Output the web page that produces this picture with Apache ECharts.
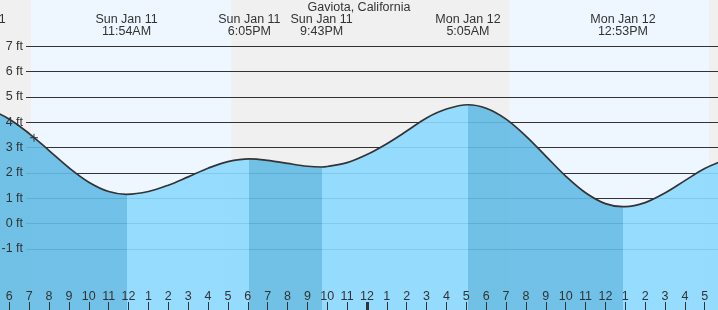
<!DOCTYPE html>
<html>
<head>
<meta charset="utf-8">
<script src="https://cdn.jsdelivr.net/npm/echarts@6/dist/echarts.min.js"></script>
<style>
  html, body { margin: 0; padding: 0; background: #f0f0f0; }
  #main { width: 718px; height: 310px; }
</style>
</head>
<body>
<div id="main"></div>
<script>
// hours counted from Sun Jan 11 00:00
var tideHours = [4.25, 5, 6, 7, 8, 9, 10, 11, 11.9, 13, 14, 15, 16, 17, 18.083, 19, 20, 21, 21.717,
                 22, 23, 24, 25, 26, 27, 28, 29.083, 30, 31, 32, 33, 34, 35, 36, 36.883,
                 37, 38, 39, 40, 41, 42];
var tideFeet = [4.6, 4.49, 4.12, 3.55, 2.88, 2.2, 1.63, 1.26, 1.15, 1.26, 1.51, 1.84, 2.18, 2.44, 2.55, 2.49, 2.37, 2.26, 2.23,
                2.25, 2.4, 2.72, 3.15, 3.65, 4.17, 4.52, 4.69, 4.55, 4.12, 3.45, 2.66, 1.87, 1.21, 0.78, 0.66,
                0.66, 0.82, 1.2, 1.69, 2.17, 2.5];

var extremeHours = [4.25, 11.9, 18.083, 21.717, 29.083, 36.883];
var extremeLabels = ['Sun Jan 11\n4:15AM', 'Sun Jan 11\n11:54AM', 'Sun Jan 11\n6:05PM',
                     'Sun Jan 11\n9:43PM', 'Mon Jan 12\n5:05AM', 'Mon Jan 12\n12:53PM'];

var dayStart = [7.09, 31.18];
var dayEnd = [17.16, 41.21];

var nowHour = 7.24;
var nowFeet = 3.39;

var FONT = 'Liberation Sans';
var TEXT = '#333';
var FLOOD = 'rgba(139,217,255,0.9)';
var EBB = 'rgba(99,187,229,0.9)';

var tideData = tideHours.map(function(h, i) { return [h, tideFeet[i]]; });

// falling tide (high -> low) is shaded darker
var pieces = [{ lt: extremeHours[0], color: FLOOD }];
extremeHours.forEach(function(h, i) {
    var p = { gte: h, color: (i % 2 === 0) ? EBB : FLOOD };
    if (i < extremeHours.length - 1) p.lt = extremeHours[i + 1];
    pieces.push(p);
});

var bands = dayStart.map(function(s, i) {
    return [{ xAxis: s }, { xAxis: dayEnd[i] }];
});

var chart = echarts.init(document.getElementById('main'));

var ftAxis = { gridIndex: 1, type: 'value', position: 'left', min: -1, max: 7, interval: 1,
               axisLine: { show: false }, axisTick: { show: false } };

var option = {
    animation: false,
    backgroundColor: '#f0f0f0',
    textStyle: { fontFamily: FONT, fontSize: 12.5, color: TEXT },
    title: {
        text: 'Gaviota, California',
        left: 'center',
        top: 0,
        padding: [1, 0, 0, 0],
        textStyle: { fontFamily: FONT, fontSize: 12.5, fontWeight: 'normal', color: TEXT }
    },
    grid: [
        { left: -30.4, right: -6.6, top: 0, bottom: 0, containLabel: false, outerBoundsMode: 'none' },
        { left: 26, right: 0, top: 46.3, bottom: 61.1, containLabel: false, outerBoundsMode: 'none' }
    ],
    visualMap: {
        type: 'piecewise',
        show: false,
        dimension: 0,
        seriesIndex: 0,
        pieces: pieces
    },
    xAxis: [
        {
            // hour ticks along the bottom
            gridIndex: 0, type: 'value', position: 'bottom',
            min: 4, max: 42, interval: 1, z: 10,
            axisLine: { show: false, onZero: false },
            axisTick: { inside: true, length: 8, lineStyle: { color: TEXT, width: 1 } },
            axisLabel: {
                inside: true, margin: 7, color: TEXT, fontSize: 12.5, fontFamily: FONT,
                formatter: function(v) { return String((v % 12) || 12); }
            },
            splitLine: { show: false }
        },
        {
            // high / low labels along the top
            gridIndex: 0, type: 'value', position: 'top', offset: -40,
            min: 4, max: 42, z: 10,
            axisLine: { show: false, onZero: false },
            axisTick: { show: false },
            axisLabel: {
                customValues: extremeHours, margin: 2, color: TEXT,
                fontSize: 12.5, fontFamily: FONT, lineHeight: 12,
                formatter: function(v) { return extremeLabels[extremeHours.indexOf(v)]; }
            },
            splitLine: { show: false }
        },
        {
            // midnight tick
            gridIndex: 0, type: 'value', position: 'bottom',
            min: 4, max: 42, z: 10,
            axisLine: { show: false, onZero: false },
            axisTick: { inside: true, length: 8, customValues: [24], lineStyle: { color: TEXT, width: 3 } },
            axisLabel: { show: false },
            splitLine: { show: false }
        },
        { gridIndex: 1, type: 'value', show: false, min: 0, max: 1 }
    ],
    yAxis: [
        { gridIndex: 0, type: 'value', show: false, min: -3.423, max: 8.83 },
        // feet lines: above the day/night bands, below the water
        Object.assign({}, ftAxis, {
            z: 1.5,
            axisLabel: { show: false },
            splitLine: { lineStyle: { color: TEXT, width: 1 } }
        }),
        // feet labels on top of everything
        Object.assign({}, ftAxis, {
            z: 10,
            axisLabel: { margin: 3, color: TEXT, fontSize: 12.5, fontFamily: FONT, formatter: '{value} ft' },
            splitLine: { show: false }
        })
    ],
    series: [
        {
            name: 'tide',
            type: 'line',
            xAxisIndex: 0,
            yAxisIndex: 0,
            data: tideData,
            smooth: 0.35,
            showSymbol: false,
            z: 2,
            lineStyle: { color: TEXT, width: 1.7 },
            areaStyle: { origin: 'start', opacity: 1 },
            markArea: {
                silent: true,
                z: 1,
                itemStyle: { color: '#eef7ff' },
                data: bands
            }
        },
        {
            name: 'now',
            type: 'scatter',
            xAxisIndex: 0,
            yAxisIndex: 0,
            z: 5,
            symbol: 'path://M5 0V10M0 5H10',
            symbolSize: 8,
            itemStyle: { color: 'rgba(0,0,0,0)', borderColor: TEXT, borderWidth: 1.2 },
            data: [[nowHour, nowFeet]]
        }
    ]
};
chart.setOption(option);
</script>
</body>
</html>
